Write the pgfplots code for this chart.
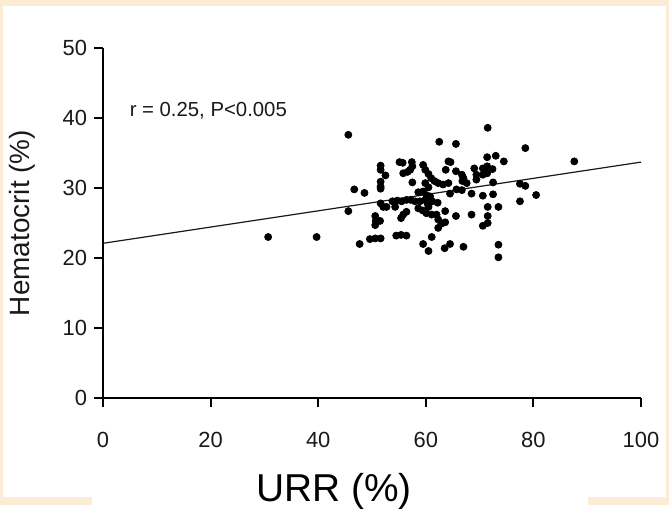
\documentclass[border=0pt]{standalone}
\usepackage{pgfplots}
\pgfplotsset{compat=1.18}
\usepackage{fontspec}
\setmainfont{Liberation Sans}
\definecolor{peach}{RGB}{252,236,214}
\definecolor{ink}{RGB}{25,25,25}
% position on the 669 x 505 slide grid (origin top left), axis corner at (103,398)
\newcommand{\px}[2]{({(#1-103)*0.5bp},{(398-#2)*0.5bp})}

\begin{document}
\begin{tikzpicture}
% slide background with a white panel
\fill[peach] \px{0}{0} rectangle \px{669}{505};
\fill[white] \px{3}{6} rectangle \px{666}{497};
\fill[white] \px{92}{497} rectangle \px{588}{505};

\begin{axis}[
  at={(0,0)}, anchor=south west,
  scale only axis, width=269bp, height=175bp,
  xmin=0, xmax=100, ymin=0, ymax=50,
  axis lines=left,
  axis line style={-, line width=1bp, black},
  xtick={0,20,...,100}, ytick={0,10,...,50},
  tick align=outside,
  major tick length=4.5bp,
  tick style={line width=1bp, black},
  /pgf/number format/assume math mode=true,
  ticklabel style={font=\fontsize{11}{13}\selectfont, text=ink},
  xticklabel style={yshift=-9bp},
  clip=false,
]
% URR vs hematocrit, one dot per patient
\addplot[only marks, mark=*, mark size=1.75bp, black] table {
x y
30.7 23.0
39.7 23.0
45.6 37.6
45.6 26.7
46.7 29.8
48.6 29.3
47.7 22.0
49.6 22.7
50.6 22.8
51.6 22.8
50.6 26.0
50.7 25.3
51.5 25.3
50.6 24.7
51.6 33.2
51.6 32.6
52.5 31.8
51.6 30.9
51.6 30.2
51.6 29.9
51.6 27.8
52.1 27.3
52.7 27.3
53.8 28.1
54.7 28.2
55.5 28.1
56.4 28.3
57.2 28.3
58.0 28.1
54.3 27.3
55.8 26.2
55.4 25.7
56.4 26.6
54.5 23.2
55.4 23.3
56.4 23.2
55.1 33.7
55.7 33.6
57.4 33.7
57.5 33.1
55.8 32.1
56.6 32.3
57.1 32.6
57.5 30.8
58.6 29.4
59.5 33.3
59.9 32.6
60.5 32.0
61.0 31.4
64.2 33.8
64.6 33.7
63.7 32.6
65.6 32.4
66.7 31.9
67.0 31.4
66.8 31.0
69.0 32.8
69.4 31.9
69.4 31.2
70.6 32.8
70.6 31.9
71.4 33.1
71.4 32.1
59.9 30.7
60.5 30.1
61.6 31.0
62.3 30.7
63.2 30.5
64.2 30.7
65.7 29.8
66.7 29.7
67.6 30.7
59.5 29.5
60.1 29.0
60.8 28.8
64.5 29.2
68.5 29.2
70.6 28.9
58.9 28.1
59.9 28.3
60.3 27.8
61.2 28.1
62.2 27.9
60.5 27.3
63.6 26.7
65.6 26.0
68.5 26.2
58.6 27.1
59.4 26.8
60.1 26.4
61.1 26.2
62.0 26.2
62.3 25.5
62.9 24.9
63.6 25.1
62.3 24.3
61.1 23.0
59.5 22.0
60.5 21.0
63.5 21.4
64.5 22.0
67.0 21.6
70.6 24.6
71.5 25.0
71.5 26.0
71.5 27.3
73.5 27.3
72.5 29.1
72.5 30.8
77.5 30.6
78.5 30.3
80.5 29.0
77.5 28.1
71.4 34.4
73.0 34.6
74.5 33.8
72.4 32.7
62.5 36.6
65.6 36.3
71.5 38.6
78.5 35.7
87.6 33.8
73.5 21.9
73.5 20.1
};
% least-squares line
\addplot[ink, line width=0.6bp] coordinates {(0,22.1) (100,33.7)};
\node[anchor=west, font=\fontsize{10.2}{12}\selectfont, text=ink, inner sep=0pt]
  at (axis cs:4.9,41.1) {r = 0.25, P<0.005};
\end{axis}

\node[rotate=90, font=\fontsize{14}{16}\selectfont, text=ink] at \px{22}{223} {Hematocrit (\%)};
\node[anchor=base, font=\fontsize{19.5}{22}\selectfont, text=black] at \px{334}{501} {URR (\%)};
\end{tikzpicture}
\end{document}
